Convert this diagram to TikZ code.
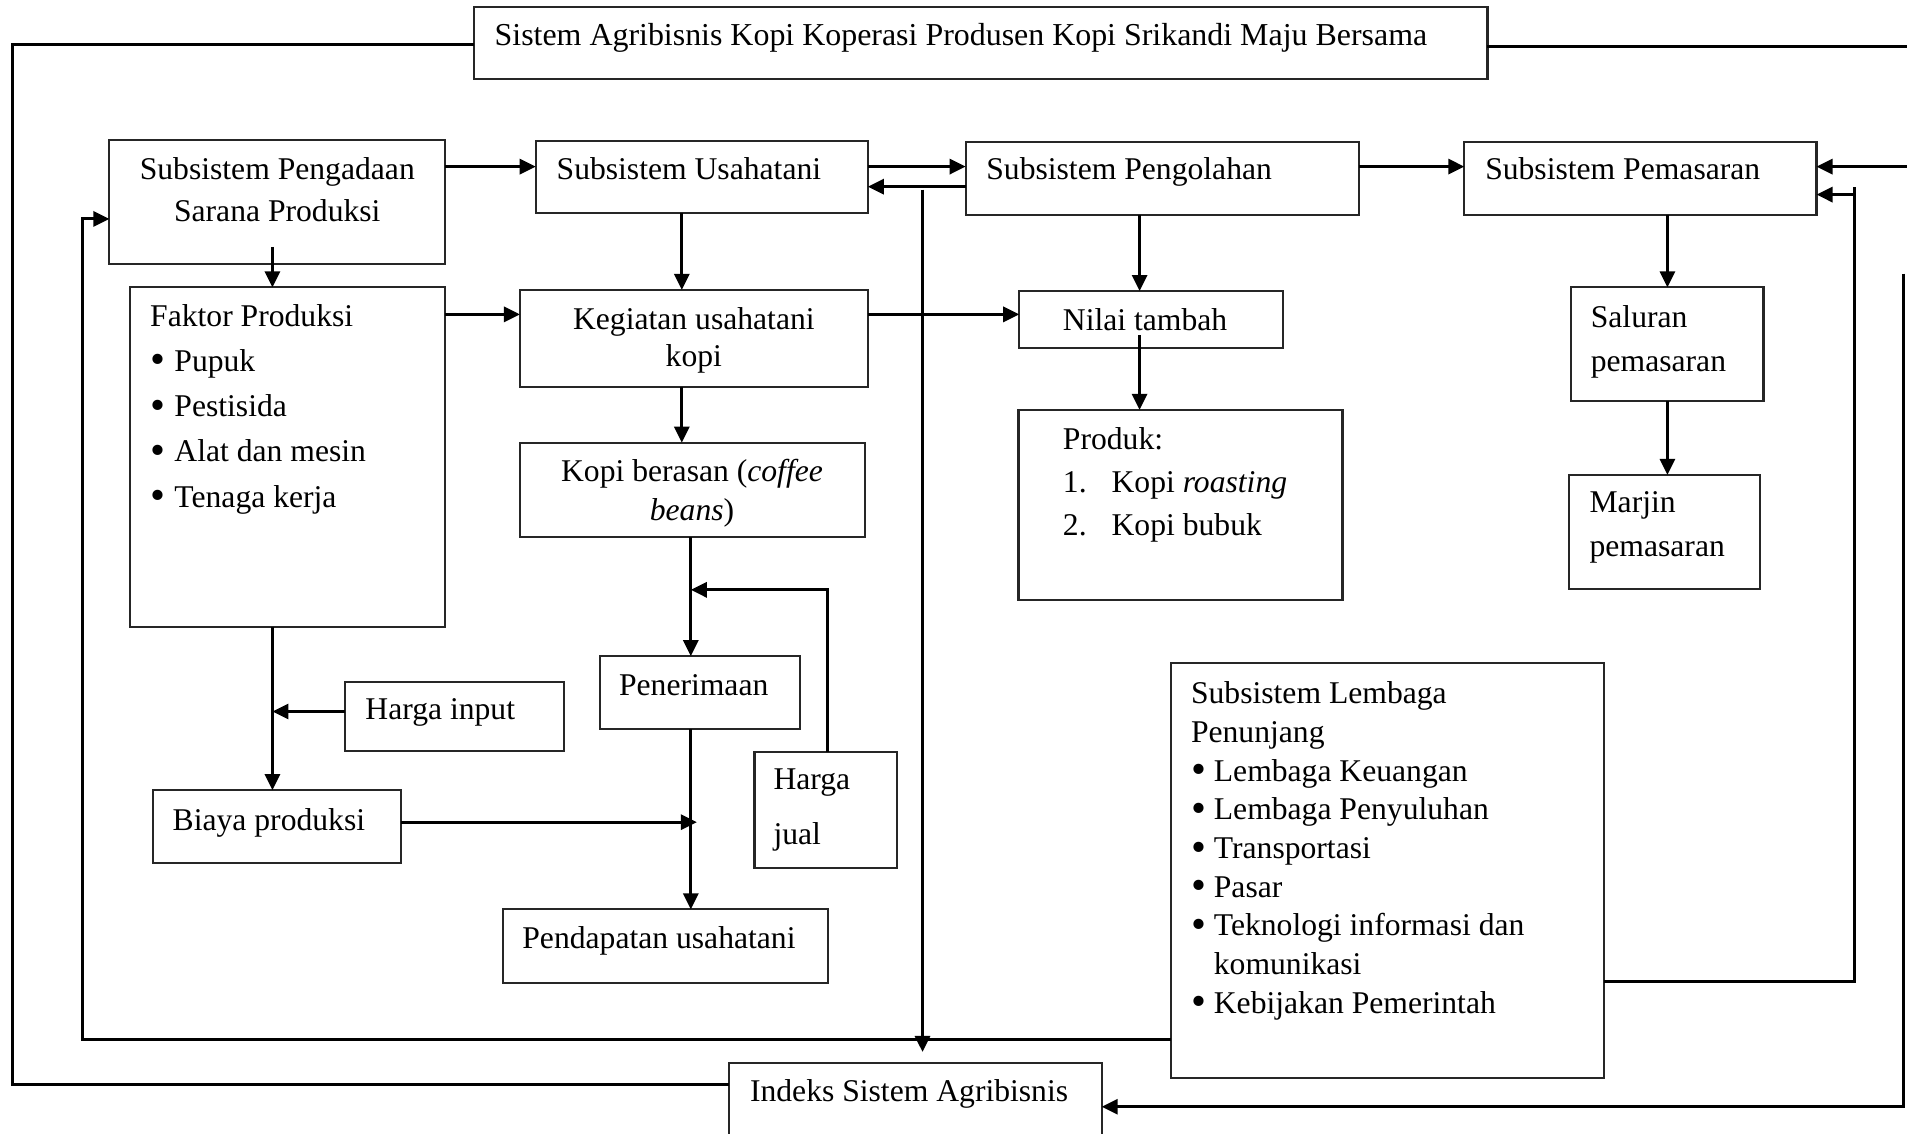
\documentclass[tikz,border=0pt]{standalone}
\usepackage{fontspec}
\setmainfont{Liberation Serif}
\usetikzlibrary{arrows.meta}
\newcommand{\itm}[1][6.9pt]{\makebox[#1][l]{\raisebox{-0.7pt}{\scalebox{1.35}{\textbullet}}}}
\tikzset{
	box/.style={draw=black!85, line width=0.6pt, inner sep=0pt, outer sep=0pt},
	txt/.style={inner sep=0pt, outer sep=0pt, font=\fontsize{9}{12.8}\selectfont},
	conn/.style={line width=0.85pt},
	arr/.style={conn, -{Triangle[length=1.6mm,width=1.5mm]}}
}

\begin{document}
\begin{tikzpicture}[x=0.012162cm, y=-0.012162cm]
	\useasboundingbox (0,0) rectangle (1568,932);
	\clip (0,0) rectangle (1568,932);

	\node[box, minimum width=10.133cm, minimum height=0.724cm] (title) at (806.4,35.3) {};
	\node[box, minimum width=3.357cm, minimum height=1.245cm] (pengadaan) at (228,166.2) {};
	\node[box, minimum width=3.320cm, minimum height=0.726cm] (usahatani) at (577,145.6) {};
	\node[box, minimum width=3.933cm, minimum height=0.733cm] (pengolahan) at (955.7,146.7) {};
	\node[box, minimum width=3.521cm, minimum height=0.733cm] (pemasaran) at (1348.8,146.7) {};
	\node[box, minimum width=3.157cm, minimum height=3.394cm] (faktor) at (236.4,375.8) {};
	\node[box, minimum width=3.478cm, minimum height=0.968cm] (kegiatan) at (570.5,278.2) {};
	\node[box, minimum width=2.634cm, minimum height=0.573cm] (nilai) at (946.3,262.9) {};
	\node[box, minimum width=1.922cm, minimum height=1.140cm] (saluran) at (1371,283.2) {};
	\node[box, minimum width=3.240cm, minimum height=1.901cm] (produk) at (970.6,415.2) {};
	\node[box, minimum width=1.909cm, minimum height=1.137cm] (marjin) at (1368.5,437.3) {};
	\node[box, minimum width=3.453cm, minimum height=0.946cm] (kopi) at (569.5,402.9) {};
	\node[box, minimum width=2.001cm, minimum height=0.733cm] (penerimaan) at (575.6,569.6) {};
	\node[box, minimum width=2.182cm, minimum height=0.690cm] (hargain) at (373.7,588.9) {};
	\node[box, minimum width=1.424cm, minimum height=1.160cm] (hargajual) at (678.9,665.7) {};
	\node[box, minimum width=2.480cm, minimum height=0.733cm] (biaya) at (228,679.8) {};
	\node[box, minimum width=3.253cm, minimum height=0.733cm] (pendapatan) at (547.4,777.9) {};
	\node[box, minimum width=4.330cm, minimum height=4.150cm] (lembaga) at (1141,716) {};
	\node[box, minimum width=3.724cm, minimum height=0.864cm] (indeks) at (752.7,909.5) {};

	\node[txt, anchor=base west, font=\fontsize{9.08}{12.8}\selectfont] (tTitle) at (406.7,37.6) {Sistem Agribisnis Kopi Koperasi Produsen Kopi Srikandi Maju Bersama};
	\node[txt, anchor=north, align=center, font=\fontsize{9}{12.1}\selectfont] (tPengadaan) at (228,129.5) {Subsistem Pengadaan\\Sarana Produksi};
	\node[txt, anchor=base west] (tUsahatani) at (457.7,147.5) {Subsistem Usahatani};
	\node[txt, anchor=base west] (tPengolahan) at (811,148) {Subsistem Pengolahan};
	\node[txt, anchor=base west] (tPemasaran) at (1221.2,148) {Subsistem Pemasaran};
	\node[txt, anchor=north west, align=left, font=\fontsize{9}{12.85}\selectfont] (tFaktor) at (123.5,250.3)
		{Faktor Produksi\\\itm Pupuk\\\itm Pestisida\\\itm Alat dan mesin\\\itm Tenaga kerja};
	\node[txt, anchor=north, align=center, font=\fontsize{9}{10.7}\selectfont] (tKegiatan) at (570.5,252.5) {Kegiatan usahatani\\kopi};
	\node[txt, anchor=base west] (tNilai) at (874,272) {Nilai tambah};
	\node[txt, anchor=north west, align=left, font=\fontsize{9}{12.5}\selectfont] (tSaluran) at (1308,251.1) {Saluran\\pemasaran};
	\node[txt, anchor=north west, align=left, font=\fontsize{9}{12.3}\selectfont] (tProduk) at (874,351.5)
		{Produk:\\\makebox[13.85pt][l]{1.}Kopi \textit{roasting}\\\makebox[13.85pt][l]{2.}Kopi bubuk};
	\node[txt, anchor=north west, align=left, font=\fontsize{9}{12.4}\selectfont] (tMarjin) at (1307,404.5) {Marjin\\pemasaran};
	\node[txt, anchor=north, align=center, font=\fontsize{9}{10.9}\selectfont] (tKopi) at (569,378) {Kopi berasan (\textit{coffee}\\\textit{beans})};
	\node[txt, anchor=base west] (tPenerimaan) at (509,571.5) {Penerimaan};
	\node[txt, anchor=base west] (tHargain) at (300.5,592) {Harga input};
	\node[txt, anchor=north west, align=left, font=\fontsize{9}{15.6}\selectfont] (tHargajual) at (636,632.4) {Harga\\jual};
	\node[txt, anchor=base west] (tBiaya) at (142,682.5) {Biaya produksi};
	\node[txt, anchor=base west] (tPendapatan) at (429.5,779.8) {Pendapatan usahatani};
	\node[txt, anchor=north west, align=left, font=\fontsize{9}{11}\selectfont] (tLembaga) at (979.3,560.8)
		{Subsistem Lembaga\\Penunjang\\\itm[6.5pt]Lembaga Keuangan\\\itm[6.5pt]Lembaga Penyuluhan\\\itm[6.5pt]Transportasi\\\itm[6.5pt]Pasar\\
		\itm[6.5pt]Teknologi informasi dan\\\hspace*{6.5pt}komunikasi\\\itm[6.5pt]Kebijakan Pemerintah};
	\node[txt, anchor=base west] (tIndeks) at (616.7,905.8) {Indeks Sistem Agribisnis};

	\coordinate (yTop) at (0,137);
	\coordinate (yBack) at (0,153.5);
	\coordinate (yKeg) at (0,258.5);
	\coordinate (yHI) at (0,585);
	\coordinate (xU) at (560.6,0);
	\coordinate (xP) at (568,0);
	\coordinate (xF) at (224,0);
	\coordinate (xN) at (937,0);
	\coordinate (xS) at (1371,0);
	\coordinate (cLB) at (10,892);
	\coordinate (cRT) at (1568,38);
	\coordinate (cRA) at (1568,137);
	\coordinate (cRV) at (1565,225);
	\coordinate (cRB) at (1565,910);
	\coordinate (cLL) at (68,855);
	\coordinate (cLU) at (68,180);
	\coordinate (cMR) at (1525,807);
	\coordinate (cMU) at (1525,154);
	\coordinate (cMA) at (1525,160);
	\coordinate (cV) at (758.5,156);
	\coordinate (cPF) at (224,203);
	\coordinate (cHJ) at (680,485);
	\coordinate (cBP) at (573,676);
	\coordinate (cNP) at (937,275.5);

	\draw[conn] (title.west |- 0,37) -| (cLB) -- (cLB -| indeks.west);
	\draw[conn] (title.east |- cRT) -- (cRT);
	\draw[arr] (cRA) -- (cRA -| pemasaran.east);
	\draw[arr] (cRV) -- (cRB) -- (cRB -| indeks.east);
	\draw[arr] (lembaga.west |- cLL) -- (cLL) -- (cLU) -- (cLU -| pengadaan.west);
	\draw[conn] (lembaga.east |- cMR) -- (cMR) -- (cMU);
	\draw[arr] (cMA) -- (cMA -| pemasaran.east);

	\draw[arr] (pengadaan.east |- yTop) -- (usahatani.west |- yTop);
	\draw[arr] (usahatani.east |- yTop) -- (pengolahan.west |- yTop);
	\draw[arr] (pengolahan.west |- yBack) -- (usahatani.east |- yBack);
	\draw[arr] (pengolahan.east |- yTop) -- (pemasaran.west |- yTop);
	\draw[arr, shorten >=0.11cm] (cV) -- (cV |- indeks.north);

	\draw[arr] (cPF) -- (cPF |- faktor.north);
	\draw[arr] (faktor.east |- yKeg) -- (kegiatan.west |- yKeg);
	\draw[arr] (kegiatan.east |- yKeg) -- (nilai.west |- yKeg);
	\draw[arr] (xU |- usahatani.south) -- (xU |- kegiatan.north);
	\draw[arr] (xU |- kegiatan.south) -- (xU |- kopi.north);
	\draw[arr] (xN |- pengolahan.south) -- (xN |- nilai.north);
	\draw[arr] (cNP) -- (xN |- produk.north);
	\draw[arr] (xS |- pemasaran.south) -- (xS |- saluran.north);
	\draw[arr] (xS |- saluran.south) -- (xS |- marjin.north);

	\draw[arr] (xP |- kopi.south) -- (xP |- penerimaan.north);
	\draw[arr] (cHJ |- hargajual.north) -- (cHJ) -- (xP |- cHJ);
	\draw[arr] (xP |- penerimaan.south) -- (xP |- pendapatan.north);
	\draw[arr] (biaya.east |- cBP) -- (cBP);
	\draw[arr] (xF |- faktor.south) -- (xF |- biaya.north);
	\draw[arr] (hargain.west |- yHI) -- (xF |- yHI);
\end{tikzpicture}
\end{document}
